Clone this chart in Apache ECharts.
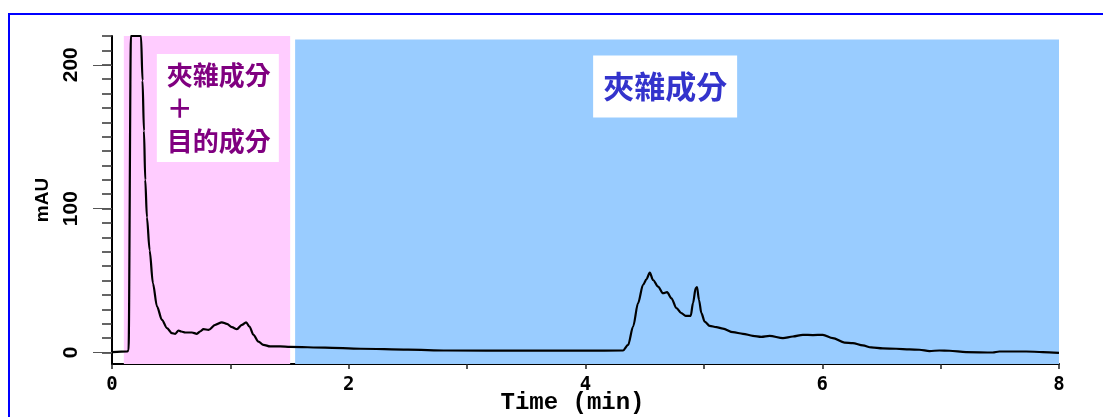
<!DOCTYPE html>
<html>
<head>
<meta charset="utf-8">
<script src="https://cdn.jsdelivr.net/npm/echarts@6/dist/echarts.min.js"></script>
<style>
  html, body { margin: 0; padding: 0; background: #ffffff; }
  #chart { width: 1103px; height: 417px; }
</style>
</head>
<body>
<div id="chart"></div>
<script>
// Retention time (min) and absorbance (mAU) of the chromatogram trace
const timeMin = [
  0.00, 0.13, 0.14, 0.16, 0.245, 0.258, 0.27, 0.281, 0.295, 0.318,
  0.346, 0.38, 0.422, 0.464, 0.506, 0.534, 0.562, 0.585, 0.619, 0.675,
  0.717, 0.745, 0.773, 0.815, 0.872, 0.928, 0.97, 1.013, 1.055, 1.097,
  1.133, 1.161, 1.195, 1.237, 1.279, 1.336, 1.42, 1.505, 1.8, 2.1,
  2.5, 2.83, 3.5, 4.0, 4.317, 4.36, 4.402, 4.444, 4.486, 4.515,
  4.543, 4.571, 4.613, 4.655, 4.689, 4.726, 4.768, 4.81, 4.846, 4.889,
  4.908, 4.931, 4.942, 4.959, 4.979, 5.007, 5.049, 5.106, 5.161, 5.246,
  5.33, 5.414, 5.485, 5.555, 5.668, 5.752, 5.836, 5.921, 6.005, 6.089,
  6.188, 6.258, 6.343, 6.414, 6.511, 6.624, 6.737, 6.821, 6.906, 6.99,
  7.074, 7.215, 7.44, 7.496, 7.722, 7.862, 8.0
];
const absorbance = [
  0.3, 0.8, 1.5, 220, 220, 189, 154, 120, 94, 71,
  48, 32, 22.7, 17, 13.4, 13, 15.3, 14.6, 13.9, 13.9,
  13, 14.6, 16.2, 15.7, 19.2, 21, 19.9, 17.6, 16.2, 19.2,
  21, 18, 12.3, 7.6, 5.3, 4.2, 4.2, 3.9, 3.4, 2.6,
  2.0, 1.4, 1.3, 1.3, 1.4, 5.3, 18, 34.3, 47, 50.9,
  55.5, 50.4, 45.8, 41.2, 41.9, 37.7, 30.8, 27.3, 25.5, 25.5,
  34.3, 44.7, 45.4, 36.5, 27.3, 21.5, 18.5, 17.6, 16.6, 14.1,
  13, 11.6, 10.9, 11.6, 10, 11.1, 12.3, 12.1, 12.3, 10,
  6.9, 6.5, 4.9, 3.5, 2.8, 2.6, 2.1, 1.9, 1.0, 1.4,
  1.2, 0.3, 0.0, 0.7, 0.7, 0.3, -0.2
];

// Axis ranges and ticks
const xRange = [0, 8];
const xLabelValues = [0, 2, 4, 6, 8];
const yRange = [-8, 220];
const yMajorTicks = [0, 100, 200];
const yMinorTicks = [0, 10, 20, 30, 40, 50, 60, 70, 80, 90, 100, 110,
                     120, 130, 140, 150, 160, 170, 180, 190, 200, 210, 220];

// Shaded fractions: [start, end] in minutes and [bottom, top] in mAU
const mixedZone = { x: [0.1, 1.505], y: [-10, 220], text: ['夾雜成分', '＋', '目的成分'] };
const impurityZone = { x: [1.547, 8.0], y: [-8, 217.5], text: '夾雜成分' };

const sansBold = "'Liberation Sans', Arial, sans-serif";
const monoBold = "'Liberation Mono', 'DejaVu Sans Mono', monospace";
const cjkFont = "'Noto Sans CJK TC', 'Noto Sans CJK JP', sans-serif";

const chart = echarts.init(document.getElementById('chart'), null, { renderer: 'canvas' });

chart.setOption({
  backgroundColor: '#ffffff',
  animation: false,
  graphic: [{
    type: 'rect',
    silent: true,
    shape: { x: 9, y: 14, width: 1200, height: 500 },
    style: { fill: 'none', stroke: '#0000ff', lineWidth: 2 }
  }],
  grid: { left: 112, right: 44, top: 36, bottom: 53, outerBoundsMode: 'none', containLabel: false },
  xAxis: {
    type: 'value',
    min: xRange[0],
    max: xRange[1],
    interval: 1,
    name: 'Time (min)',
    nameLocation: 'middle',
    nameGap: 27,
    nameMoveOverlap: false,
    nameTextStyle: {
      fontFamily: monoBold,
      fontWeight: 'bold',
      fontSize: 24,
      color: '#000',
      padding: [0, 26, 0, 0]
    },
    axisLine: { show: true, onZero: false, lineStyle: { color: '#000', width: 2 } },
    axisTick: { show: true, length: 5, lineStyle: { color: '#222', width: 1.5 } },
    axisLabel: {
      customValues: xLabelValues,
      margin: 12,
      fontFamily: "'DejaVu Sans Mono', monospace",
      fontWeight: 'bold',
      fontSize: 19,
      color: '#000'
    },
    splitLine: { show: false }
  },
  yAxis: [{
    type: 'value',
    min: yRange[0],
    max: yRange[1],
    name: 'mAU',
    nameLocation: 'middle',
    nameRotate: 90,
    nameGap: 60,
    nameMoveOverlap: false,
    nameTextStyle: { fontFamily: sansBold, fontWeight: 'bold', fontSize: 19, color: '#000' },
    axisLine: { show: true, onZero: false, lineStyle: { color: '#000', width: 2 } },
    axisTick: { show: true, customValues: yMinorTicks, length: 10, lineStyle: { color: '#333', width: 1.5 } },
    axisLabel: {
      customValues: yMajorTicks,
      rotate: 90,
      margin: 30,
      fontFamily: sansBold,
      fontWeight: 'bold',
      fontSize: 21,
      color: '#000'
    },
    splitLine: { show: false }
  }, {
    type: 'value',
    position: 'left',
    min: yRange[0],
    max: yRange[1],
    axisLine: { show: false },
    axisTick: { show: true, customValues: yMajorTicks, length: 19, lineStyle: { color: '#555', width: 1 } },
    axisLabel: { show: false },
    splitLine: { show: false }
  }],
  series: [{
    type: 'line',
    yAxisIndex: 0,
    data: timeMin.map((t, i) => [t, absorbance[i]]),
    showSymbol: false,
    smooth: 0.3,
    smoothMonotone: 'x',
    lineStyle: { color: '#000', width: 2.2 },
    z: 5,
    markArea: {
      silent: true,
      data: [
        [{
          coord: [mixedZone.x[0], mixedZone.y[1]],
          itemStyle: { color: '#ffccff', opacity: 1 },
          label: {
            show: true,
            position: [33, 18],
            formatter: mixedZone.text.join('\n'),
            backgroundColor: '#ffffff',
            padding: [5, 8, 4, 10],
            color: '#800080',
            fontFamily: cjkFont,
            fontWeight: 'bold',
            fontSize: 26,
            lineHeight: 33,
            align: 'left',
            verticalAlign: 'top'
          }
        }, { coord: [mixedZone.x[1], mixedZone.y[0]] }],
        [{
          coord: [impurityZone.x[0], impurityZone.y[1]],
          itemStyle: { color: '#99ccff', opacity: 1 },
          label: {
            show: true,
            position: [298, 16],
            formatter: impurityZone.text,
            backgroundColor: '#ffffff',
            padding: [15, 10, 16, 10],
            color: '#3333cc',
            fontFamily: cjkFont,
            fontWeight: 'bold',
            fontSize: 31,
            lineHeight: 31,
            align: 'left',
            verticalAlign: 'top'
          }
        }, { coord: [impurityZone.x[1], impurityZone.y[0]] }]
      ]
    }
  }]
});
</script>
</body>
</html>
